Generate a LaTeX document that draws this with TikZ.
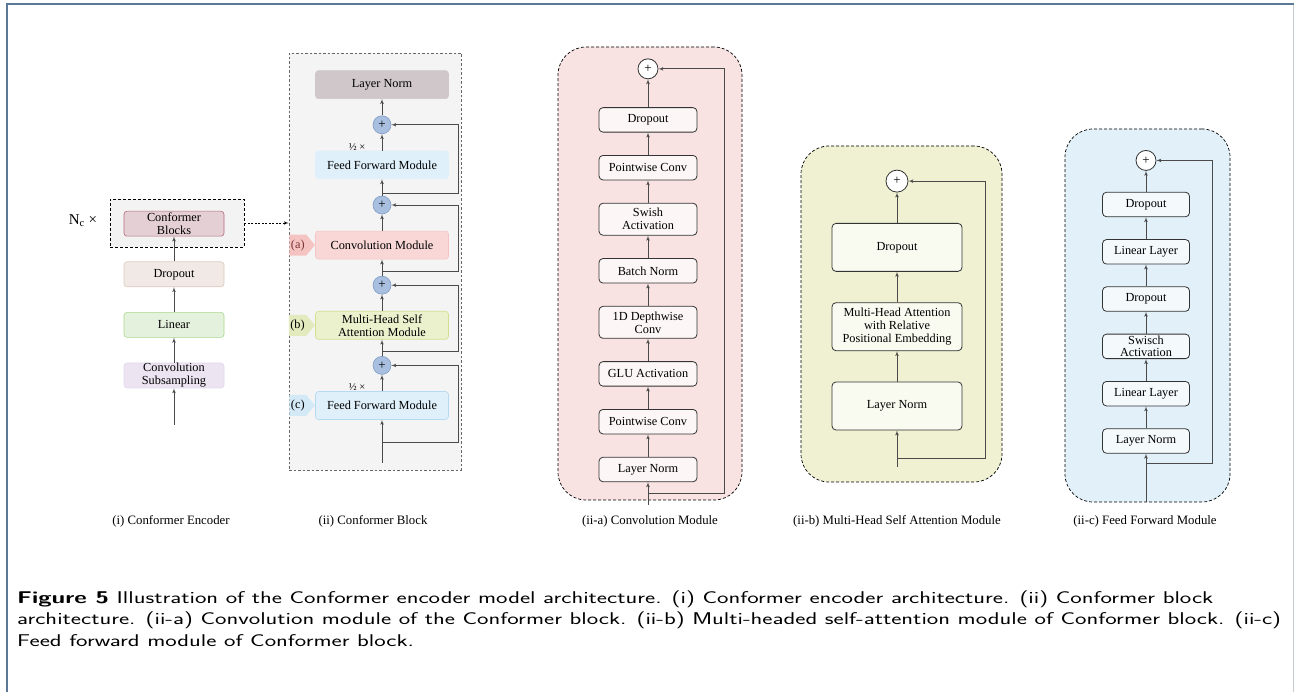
\documentclass[tikz,border=0pt]{standalone}
\usepackage{fontspec}
\setmainfont{Liberation Serif}
\usepackage{xcolor}
\usepackage{graphicx}
\usepackage{tikz}
\usetikzlibrary{shapes, arrows, positioning}

\definecolor{framecol}{HTML}{5B7896}
\definecolor{edgecol}{HTML}{C3CBD3}
\definecolor{arrowgray}{HTML}{4A4A4A}
\definecolor{boxline}{HTML}{333333}
\definecolor{repfill}{HTML}{F3F3F3}
\definecolor{blkfill}{HTML}{F4F4F4}
\definecolor{dashgray}{HTML}{666666}
\definecolor{cbfill}{HTML}{E3CFD4}
\definecolor{cbline}{HTML}{B56F80}
\definecolor{dropfill}{HTML}{F0E9E5}
\definecolor{dropline}{HTML}{DCCABD}
\definecolor{linfill}{HTML}{E4F1DC}
\definecolor{linline}{HTML}{A9D88F}
\definecolor{subfill}{HTML}{ECE4F1}
\definecolor{subline}{HTML}{E2D7EE}
\definecolor{normfill}{HTML}{CFC7C9}
\definecolor{ffnfill}{HTML}{DFF0FA}
\definecolor{ffnline}{HTML}{B5DAF1}
\definecolor{convfill}{HTML}{F9D7D6}
\definecolor{convline}{HTML}{F3C4C4}
\definecolor{mhsafill}{HTML}{EBF1CD}
\definecolor{mhsaline}{HTML}{D1DF8F}
\definecolor{sumfill}{HTML}{A9BFDF}
\definecolor{sumline}{HTML}{7F9DC6}
\definecolor{tagafill}{HTML}{F6C3C3}
\definecolor{tagbfill}{HTML}{E3EBBE}
\definecolor{tagcfill}{HTML}{D3E9F6}
\definecolor{tagatext}{HTML}{7A3535}
\definecolor{cpanel}{HTML}{F8E2E2}
\definecolor{cinner}{HTML}{FCF7F6}
\definecolor{mpanel}{HTML}{EFF1D2}
\definecolor{minner}{HTML}{FAFBF0}
\definecolor{fpanel}{HTML}{E1F0F9}
\definecolor{finner}{HTML}{F4F9FC}

\begin{document}
\begin{tikzpicture}[
    x=1pt, y=-1pt,
    font=\fontsize{12.3}{13}\selectfont,
    line/.style={draw=arrowgray, line width=0.7pt, -latex'},
    encblock/.style={rectangle, draw, rounded corners=3pt, line width=0.6pt, minimum width=100pt, minimum height=25pt, inner sep=0pt, align=center},
    modblock/.style={rectangle, draw, rounded corners=3pt, line width=0.6pt, minimum width=133pt, minimum height=28pt, inner sep=0pt, align=center},
    subblock/.style={rectangle, draw=boxline, rounded corners=4pt, line width=0.8pt, minimum height=24.5pt, inner sep=0pt, align=center},
    sumnode/.style={circle, draw=sumline, fill=sumfill, line width=0.6pt, minimum size=18pt, inner sep=0pt, font=\fontsize{13}{13}\selectfont},
    addnode/.style={circle, draw=boxline, fill=white, line width=0.8pt, minimum size=20pt, inner sep=0pt, font=\fontsize{13}{13}\selectfont},
    panel/.style={rectangle, draw=black, line width=0.7pt, dash pattern=on 3pt off 2pt, rounded corners=28pt},
    tag/.style={signal, signal to=east, signal pointer angle=100, minimum height=21pt, inner sep=1.5pt, anchor=east},
    caption/.style={font=\fontsize{12.8}{13}\selectfont}
]
    \useasboundingbox (0,0) rectangle (1294,692);
    \draw[edgecol, line width=1.2pt] (1293.4,4) -- (1293.4,692);
    \draw[framecol, line width=1.6pt] (7,692) -- (7,4) -- (1294,4);

    % (i) Conformer Encoder
    \node [draw, fill=repfill, line width=0.7pt, dash pattern=on 3pt off 2pt, minimum width=134pt, minimum height=48pt] (rep) at (177,223) {};
    \node [encblock, fill=subfill, draw=subline] (csub) at (174,375.5) {Convolution\\Subsampling};
    \node [encblock, fill=linfill, draw=linline, above=25pt of csub] (lin) {Linear};
    \node [encblock, fill=dropfill, draw=dropline, above=25pt of lin] (drop) {Dropout};
    \node [encblock, fill=cbfill, draw=cbline, above=25pt of drop] (cblocks) {Conformer\\Blocks};
    \node [font=\fontsize{15}{15}\selectfont] (nc) at (83,221) {N\textsubscript{c} ×};
    \coordinate (encin) at (174,425);

    \path [line] (encin) -- (csub);
    \path [line] (csub) -- (lin);
    \path [line] (lin) -- (drop);
    \path [line] (drop) -- (cblocks);

    % (ii) Conformer Block
    \node [draw=dashgray, fill=blkfill, line width=0.8pt, dash pattern=on 2.5pt off 2pt, minimum width=172pt, minimum height=417pt] (blkframe) at (375,261.5) {};
    \node [modblock, fill=ffnfill, draw=ffnline] (ffn1) at (382,405.5) {Feed Forward Module};
    \node [sumnode, above=16.5pt of ffn1] (sum1) {+};
    \node [modblock, fill=mhsafill, draw=mhsaline, above=16.5pt of sum1] (mhsa) {Multi-Head Self\\Attention Module};
    \node [sumnode, above=16.5pt of mhsa] (sum2) {+};
    \node [modblock, fill=convfill, draw=convline, above=16.5pt of sum2] (convm) {Convolution Module};
    \node [sumnode, above=16.5pt of convm] (sum3) {+};
    \node [modblock, fill=ffnfill, draw=ffnfill, above=16.5pt of sum3] (ffn2) {Feed Forward Module};
    \node [sumnode, above=16.5pt of ffn2] (sum4) {+};
    \node [modblock, fill=normfill, draw=normfill, above=16.5pt of sum4] (bnorm) {Layer Norm};

    \node [tag, fill=tagafill, text=tagatext] (taga) at (convm.west) {(a)};
    \node [tag, fill=tagbfill] (tagb) at (mhsa.west) {(b)};
    \node [tag, fill=tagcfill] (tagc) at (ffn1.west) {(c)};
    \node [font=\fontsize{10.5}{10.5}\selectfont] (half1) at (357,387) {½ ×};
    \node [font=\fontsize{10.5}{10.5}\selectfont] (half2) at (357,147) {½ ×};

    \coordinate (blkin) at (382,463);
    \coordinate (blkskip) at (458.5,0);
    \coordinate (br1) at (382,442);
    \coordinate (br2) at (382,351);
    \coordinate (br3) at (382,271);
    \coordinate (br4) at (382,193);

    \path [line] (blkin) -- (ffn1);
    \path [line] (ffn1) -- (sum1);
    \path [line] (sum1) -- (mhsa);
    \path [line] (mhsa) -- (sum2);
    \path [line] (sum2) -- (convm);
    \path [line] (convm) -- (sum3);
    \path [line] (sum3) -- (ffn2);
    \path [line] (ffn2) -- (sum4);
    \path [line] (sum4) -- (bnorm);
    \path [line] (br1) -- (br1 -| blkskip) |- (sum1);
    \path [line] (br2) -- (br2 -| blkskip) |- (sum2);
    \path [line] (br3) -- (br3 -| blkskip) |- (sum3);
    \path [line] (br4) -- (br4 -| blkskip) |- (sum4);

    \draw [line width=0.6pt, dash pattern=on 2pt off 1.5pt, -latex'] (rep.east) -- (rep.east -| blkframe.west);

    % (ii-a) Convolution Module
    \node [panel, fill=cpanel, minimum width=184pt, minimum height=453pt] (cpanel) at (650,273.5) {};
    \node [subblock, fill=cinner, minimum width=98pt] (cln) at (648,469.5) {Layer Norm};
    \node [subblock, fill=cinner, minimum width=98pt, above=22.5pt of cln] (cpw1) {Pointwise Conv};
    \node [subblock, fill=cinner, minimum width=98pt, above=22.5pt of cpw1] (cglu) {GLU Activation};
    \node [subblock, fill=cinner, minimum width=98pt, minimum height=32pt, above=22.5pt of cglu] (cdw) {1D Depthwise\\Conv};
    \node [subblock, fill=cinner, minimum width=98pt, above=22.5pt of cdw] (cbn) {Batch Norm};
    \node [subblock, fill=cinner, minimum width=98pt, minimum height=32pt, above=22.5pt of cbn] (cswish) {Swish\\Activation};
    \node [subblock, fill=cinner, minimum width=98pt, above=22.5pt of cswish] (cpw2) {Pointwise Conv};
    \node [subblock, fill=cinner, minimum width=98pt, above=22.5pt of cpw2] (cdrop) {Dropout};
    \node [addnode, above=28pt of cdrop] (cadd) {+};
    \coordinate (cin) at (648,505);
    \coordinate (cbr) at (648,493);
    \coordinate (cskip) at (724,0);

    \path [line] (cin) -- (cln);
    \path [line] (cln) -- (cpw1);
    \path [line] (cpw1) -- (cglu);
    \path [line] (cglu) -- (cdw);
    \path [line] (cdw) -- (cbn);
    \path [line] (cbn) -- (cswish);
    \path [line] (cswish) -- (cpw2);
    \path [line] (cpw2) -- (cdrop);
    \path [line] (cdrop) -- (cadd);
    \path [line] (cbr) -- (cbr -| cskip) |- (cadd);

    % (ii-b) Multi-Head Self Attention Module
    \node [panel, fill=mpanel, minimum width=201pt, minimum height=336pt] (mpanel) at (901.5,314) {};
    \node [subblock, fill=minner, minimum width=130pt, minimum height=48pt] (mln) at (897,406) {Layer Norm};
    \node [subblock, fill=minner, minimum width=130pt, minimum height=48pt, above=30.5pt of mln] (matt) {Multi-Head Attention\\with Relative\\Positional Embedding};
    \node [subblock, fill=minner, minimum width=130pt, minimum height=48pt, above=30.5pt of matt] (mdrop) {Dropout};
    \node [addnode, minimum size=22pt, above=30.5pt of mdrop] (madd) {+};
    \coordinate (min) at (897,467);
    \coordinate (mbr) at (897,458);
    \coordinate (mskip) at (985,0);

    \path [line] (min) -- (mln);
    \path [line] (mln) -- (matt);
    \path [line] (matt) -- (mdrop);
    \path [line] (mdrop) -- (madd);
    \path [line] (mbr) -- (mbr -| mskip) |- (madd);

    % (ii-c) Feed Forward Module
    \node [panel, fill=fpanel, minimum width=165pt, minimum height=373pt] (fpanel) at (1147.5,315.5) {};
    \node [subblock, fill=finner, minimum width=87pt] (fln) at (1146,441) {Layer Norm};
    \node [subblock, fill=finner, minimum width=87pt, above=22pt of fln] (flin1) {Linear Layer};
    \node [subblock, fill=finner, minimum width=87pt, above=22pt of flin1, font=\fontsize{12.3}{12.5}\selectfont] (fswish) {Swisch\\Activation};
    \node [subblock, fill=finner, minimum width=87pt, above=22pt of fswish] (fdrop1) {Dropout};
    \node [subblock, fill=finner, minimum width=87pt, above=22pt of fdrop1] (flin2) {Linear Layer};
    \node [subblock, fill=finner, minimum width=87pt, above=22pt of flin2] (fdrop2) {Dropout};
    \node [addnode, above=21pt of fdrop2] (fadd) {+};
    \coordinate (fin) at (1146,502);
    \coordinate (fbr) at (1146,463);
    \coordinate (fskip) at (1212,0);

    \path [line] (fin) -- (fln);
    \path [line] (fln) -- (flin1);
    \path [line] (flin1) -- (fswish);
    \path [line] (fswish) -- (fdrop1);
    \path [line] (fdrop1) -- (flin2);
    \path [line] (flin2) -- (fdrop2);
    \path [line] (fdrop2) -- (fadd);
    \path [line] (fbr) -- (fbr -| fskip) |- (fadd);

    % Sub-captions
    \node [caption] (capi) at (171,521) {(i) Conformer Encoder};
    \node [caption] (capii) at (373,521) {(ii) Conformer Block};
    \node [caption] (capiia) at (650,521) {(ii-a) Convolution Module};
    \node [caption] (capiib) at (897,521) {(ii-b) Multi-Head Self Attention Module};
    \node [caption] (capiic) at (1145,521) {(ii-c) Feed Forward Module};

    % Figure caption
    \node [anchor=north west, inner sep=0pt, font=\sffamily\fontsize{17}{21.5}\selectfont] (figcap) at (17,588) {\scalebox{1.43}[1]{\begin{tabular}{@{}l@{}}\textbf{Figure 5} Illustration of the Conformer encoder model architecture. (i) Conformer encoder architecture. (ii) Conformer block\\
architecture. (ii-a) Convolution module of the Conformer block. (ii-b) Multi-headed self-attention module of Conformer block. (ii-c)\\
Feed forward module of Conformer block.\end{tabular}}};
\end{tikzpicture}
\end{document}
